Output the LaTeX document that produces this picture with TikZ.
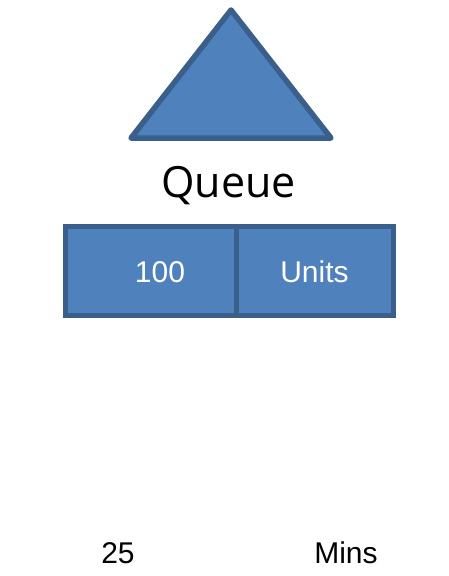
\documentclass[tikz,border=0pt]{standalone}
\usepackage{fontspec}
\setmainfont{Liberation Sans}
\newfontfamily\queuefont{Open Sans}
\definecolor{boxfill}{HTML}{4F81BD}
\definecolor{boxline}{HTML}{3A5F8B}
\tikzset{
	cell/.style={draw=boxline, fill=boxfill, line width=5pt, inner sep=0pt, outer sep=0pt, anchor=north west},
	celltext/.style={text=white, anchor=base, font=\fontsize{30}{36}\selectfont},
	plaintext/.style={text=black, anchor=base, font=\fontsize{30}{36}\selectfont}
}
\begin{document}
\begin{tikzpicture}[x=1pt, y=-1pt]
	\useasboundingbox (0,0) rectangle (448,576);
	% queue symbol
	\coordinate (apex) at (231,10);
	\coordinate (baseL) at (131,138);
	\coordinate (baseR) at (331,138);
	\filldraw[draw=boxline, fill=boxfill, line width=5.5pt, line join=round] (apex) -- (baseR) -- (baseL) -- cycle;
	\node[text=black, anchor=base, font=\queuefont\fontsize{43}{50}\selectfont] (title) at (228.5,197) {Queue};
	% quantity
	\node[cell, minimum width=170.5pt, minimum height=89pt] (qty) at (65.5,226.5) {};
	\node[cell, minimum width=157.5pt, minimum height=89pt] (unit) at (236,226.5) {};
	\node[celltext] (qtyval) at (160,282) {100};
	\node[celltext] (unitval) at (314.5,282) {Units};
	% time
	\node[plaintext] (timeval) at (118,563) {25};
	\node[plaintext] (timeunit) at (346,563) {Mins};
\end{tikzpicture}
\end{document}
